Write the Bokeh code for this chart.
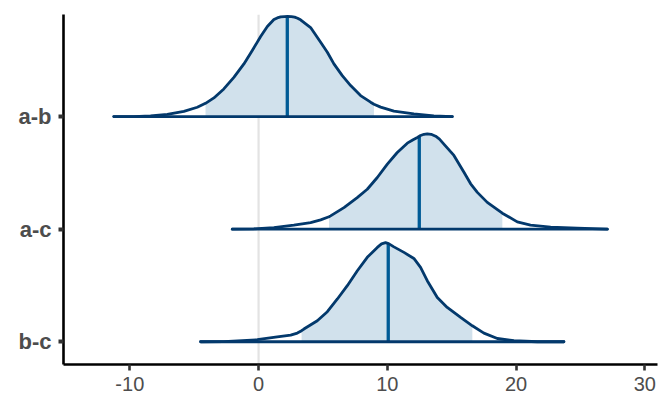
import numpy as np
from bokeh.plotting import figure
from bokeh.models import Range1d, FixedTicker, Span
from bokeh.embed import file_html
from bokeh.resources import INLINE

# parameter names (top to bottom) and their y positions
params = ["a-b", "a-c", "b-c"]
params_pos = [3, 2, 1]

# x tick values and labels
x_ticks = [-10, 0, 10, 20, 30]
x_tick_labels = ["-10", "0", "10", "20", "30"]

# density curves (x value, scaled density height)
ab_x = [-11.24, -9.69, -8.39, -7.09, -5.80, -4.76, -4.12, -3.47, -2.70, -1.92, -1.14, -0.49,
        0.16, 0.68, 1.19, 1.45, 1.71, 2.00, 2.25, 2.55, 2.80, 3.03, 3.26, 4.04, 4.82, 5.34,
        5.85, 6.50, 7.15, 7.92, 8.70, 8.96, 9.48, 10.51, 12.06, 13.61, 15.04]
ab_d = [0.0, 0.0, 0.006, 0.020, 0.047, 0.083, 0.118, 0.166, 0.246, 0.348, 0.468, 0.587,
        0.711, 0.800, 0.862, 0.877, 0.886, 0.889, 0.890, 0.889, 0.884, 0.874, 0.860, 0.791,
        0.660, 0.572, 0.468, 0.364, 0.276, 0.187, 0.128, 0.110, 0.084, 0.048, 0.024, 0.006, 0.0]

ac_x = [-2.04, -0.37, 1.19, 2.74, 4.04, 4.82, 5.47, 5.59, 6.63, 7.66, 8.44, 9.22, 10.00,
        10.77, 11.55, 12.00, 12.33, 12.58, 12.85, 13.10, 13.40, 13.75, 14.05, 14.39, 15.17,
        15.95, 16.47, 16.99, 17.76, 18.93, 20.09, 21.12, 22.68, 24.75, 27.08]
ac_d = [0.0, 0.003, 0.014, 0.036, 0.059, 0.083, 0.110, 0.118, 0.192, 0.281, 0.355, 0.459,
        0.578, 0.681, 0.764, 0.795, 0.815, 0.832, 0.843, 0.847, 0.843, 0.826, 0.800, 0.756,
        0.655, 0.506, 0.403, 0.327, 0.238, 0.142, 0.065, 0.036, 0.018, 0.009, 0.0]

bc_x = [-4.50, -2.70, -0.10, 1.45, 2.49, 3.01, 3.34, 3.52, 4.56, 5.34, 6.12, 6.89, 7.67,
        8.44, 9.22, 9.55, 9.86, 10.10, 10.51, 11.29, 12.06, 12.58, 13.10, 13.88, 14.65,
        15.69, 16.60, 17.50, 18.54, 19.83, 21.65, 23.71]
bc_d = [0.0, 0.001, 0.018, 0.044, 0.059, 0.077, 0.098, 0.113, 0.187, 0.267, 0.380, 0.498,
        0.631, 0.750, 0.838, 0.870, 0.880, 0.872, 0.843, 0.794, 0.740, 0.661, 0.542, 0.394,
        0.305, 0.216, 0.142, 0.077, 0.029, 0.009, 0.0, 0.0]

# credible intervals (inner shaded area) and medians
int_lo = [-4.12, 5.47, 3.34]
int_hi = [8.96, 18.93, 16.60]
medians = [2.23, 12.48, 10.07]

curves_x = [ab_x, ac_x, bc_x]
curves_d = [ab_d, ac_d, bc_d]

FILL = "#d1e1ec"
OUTLINE = "#03396c"
MEDIAN = "#005b96"
FONT = "Liberation Sans"
TICK_COLOR = "#4d4d4d"

p = figure(width=672, height=415,
           x_range=Range1d(-15.15, 30.98), y_range=Range1d(0.798, 3.907),
           output_backend="svg", toolbar_location=None,
           min_border_left=63, min_border_right=15, min_border_top=14, min_border_bottom=51)
p.outline_line_color = None
p.xgrid.visible = False
p.ygrid.visible = False
p.background_fill_color = "white"

# zero reference line
p.add_layout(Span(location=0, dimension="height", line_color="#e3e3e3", line_width=2.2, level="underlay"))

for name, y0, xs, ds, lo, hi, med in zip(params, params_pos, curves_x, curves_d, int_lo, int_hi, medians):
    xs = np.asarray(xs, dtype=float)
    ds = np.asarray(ds, dtype=float)
    # inner shaded area
    inner = (xs > lo) & (xs < hi)
    fx = np.concatenate([[lo], xs[inner], [hi]])
    fd = np.concatenate([[np.interp(lo, xs, ds)], ds[inner], [np.interp(hi, xs, ds)]])
    p.varea(x=fx, y1=np.full_like(fx, y0), y2=y0 + fd, fill_color=FILL)
    # median line
    p.segment(x0=[med], y0=[y0], x1=[med], y1=[y0 + np.interp(med, xs, ds)],
              line_color=MEDIAN, line_width=3.3)
    # outline (density + baseline)
    p.line(x=xs, y=y0 + ds, line_color=OUTLINE, line_width=2.8, line_join="round", line_cap="round")
    p.line(x=[xs[0], xs[-1]], y=[y0, y0], line_color=OUTLINE, line_width=2.8, line_cap="round")

# x axis
p.xaxis.ticker = FixedTicker(ticks=x_ticks)
p.xaxis.major_label_overrides = {t: lab for t, lab in zip(x_ticks, x_tick_labels)}
p.xaxis.axis_line_color = "black"
p.xaxis.axis_line_width = 2.6
p.xaxis.major_tick_line_color = "#333333"
p.xaxis.major_tick_line_width = 2.6
p.xaxis.major_tick_out = 6
p.xaxis.major_tick_in = 0
p.xaxis.minor_tick_line_color = None
p.xaxis.major_label_text_font = FONT
p.xaxis.major_label_text_font_size = "20px"
p.xaxis.major_label_text_color = TICK_COLOR
p.xaxis.major_label_standoff = 6

# y axis
p.yaxis.ticker = FixedTicker(ticks=params_pos)
p.yaxis.major_label_overrides = {pos: name for pos, name in zip(params_pos, params)}
p.yaxis.axis_line_color = "black"
p.yaxis.axis_line_width = 2.6
p.yaxis.major_tick_line_color = "#333333"
p.yaxis.major_tick_line_width = 4
p.yaxis.major_tick_out = 5
p.yaxis.major_tick_in = 0
p.yaxis.minor_tick_line_color = None
p.yaxis.major_label_text_font = FONT
p.yaxis.major_label_text_font_size = "22px"
p.yaxis.major_label_text_font_style = "bold"
p.yaxis.major_label_text_color = TICK_COLOR
p.yaxis.major_label_standoff = 7

open("out.html", "w").write(file_html(p, INLINE))
